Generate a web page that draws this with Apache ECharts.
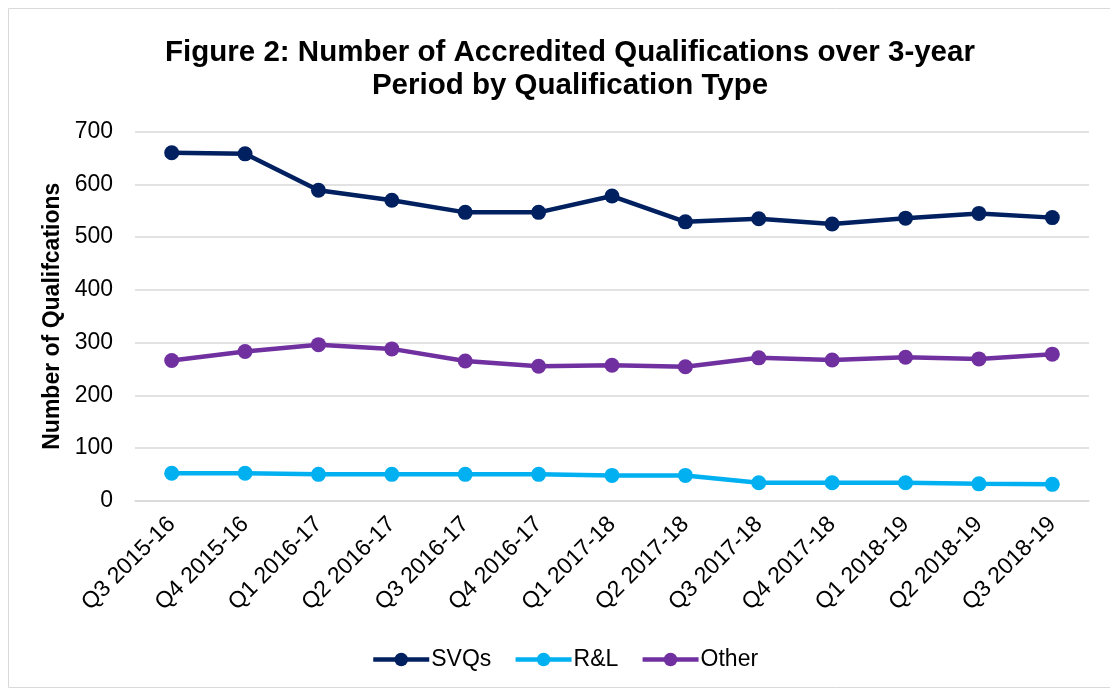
<!DOCTYPE html>
<html>
<head>
<meta charset="utf-8">
<script src="https://cdn.jsdelivr.net/npm/echarts@6/dist/echarts.min.js"></script>
<style>
  html, body { margin: 0; padding: 0; background: #fff; }
  #chart { width: 1110px; height: 690px; }
</style>
</head>
<body>
<div id="chart"></div>
<script>
  const quarters = ['Q3 2015-16', 'Q4 2015-16', 'Q1 2016-17', 'Q2 2016-17', 'Q3 2016-17', 'Q4 2016-17',
    'Q1 2017-18', 'Q2 2017-18', 'Q3 2017-18', 'Q4 2017-18', 'Q1 2018-19', 'Q2 2018-19', 'Q3 2018-19']
  const svqs = [660, 658, 589, 570, 547, 547, 578, 529, 535, 525, 536, 545, 537]
  const rl = [52, 52, 50, 50, 50, 50, 48, 48, 34, 34, 34, 32, 31]
  const other = [266, 283, 296, 288, 265, 255, 257, 254, 271, 267, 272, 269, 278]

  const colors = ['#002060', '#00B0F0', '#7030A0']
  const font = 'Liberation Sans, Arial, sans-serif'

  function lineSeries (name, data, color) {
    return {
      name: name,
      type: 'line',
      data: data,
      symbol: 'circle',
      symbolSize: 15,
      lineStyle: { width: 4.5, color: color },
      itemStyle: { color: color },
    }
  }

  const chart = echarts.init(document.getElementById('chart'))
  chart.setOption({
    animation: false,
    color: colors,
    textStyle: { fontFamily: font },
    graphic: [{
      type: 'rect',
      shape: { x: 8.5, y: 8.5, width: 1120, height: 679 },
      style: { fill: 'none', stroke: '#d9d9d9', lineWidth: 1 },
      silent: true,
    }],
    title: {
      text: 'Figure 2: Number of Accredited Qualifications over 3-year\nPeriod by Qualification Type',
      left: 565,
      textAlign: 'center',
      top: 31,
      textStyle: { fontFamily: font, fontSize: 29.5, fontWeight: 'bold', color: '#000', lineHeight: 33 },
    },
    legend: {
      bottom: 14,
      left: 366,
      itemWidth: 56,
      itemHeight: 17,
      itemGap: 22,
      lineStyle: { width: 4.5 },
      textStyle: { fontFamily: font, fontSize: 23, color: '#000', padding: [0, 0, 0, -3] },
      data: ['SVQs', 'R&L', 'Other'],
    },
    grid: { left: 135, right: 21, top: 131.7, bottom: 189.3, containLabel: false },
    xAxis: {
      type: 'category',
      data: quarters,
      axisTick: { show: false },
      axisLine: { lineStyle: { color: '#d9d9d9', width: 1.5 } },
      axisLabel: { rotate: 45, fontSize: 23, color: '#000', margin: 20, fontFamily: font },
    },
    yAxis: {
      type: 'value',
      min: 0,
      max: 700,
      interval: 100,
      name: 'Number of Qualifcations',
      nameLocation: 'middle',
      nameGap: 70,
      nameTextStyle: { fontFamily: font, fontSize: 23, fontWeight: 'bold', color: '#000' },
      axisLine: { show: false },
      axisTick: { show: false },
      axisLabel: { fontSize: 23, color: '#000', margin: 22, fontFamily: font },
      splitLine: { lineStyle: { color: '#d9d9d9', width: 1.5 } },
    },
    series: [
      lineSeries('SVQs', svqs, colors[0]),
      lineSeries('R&L', rl, colors[1]),
      lineSeries('Other', other, colors[2]),
    ],
  })
</script>
</body>
</html>
